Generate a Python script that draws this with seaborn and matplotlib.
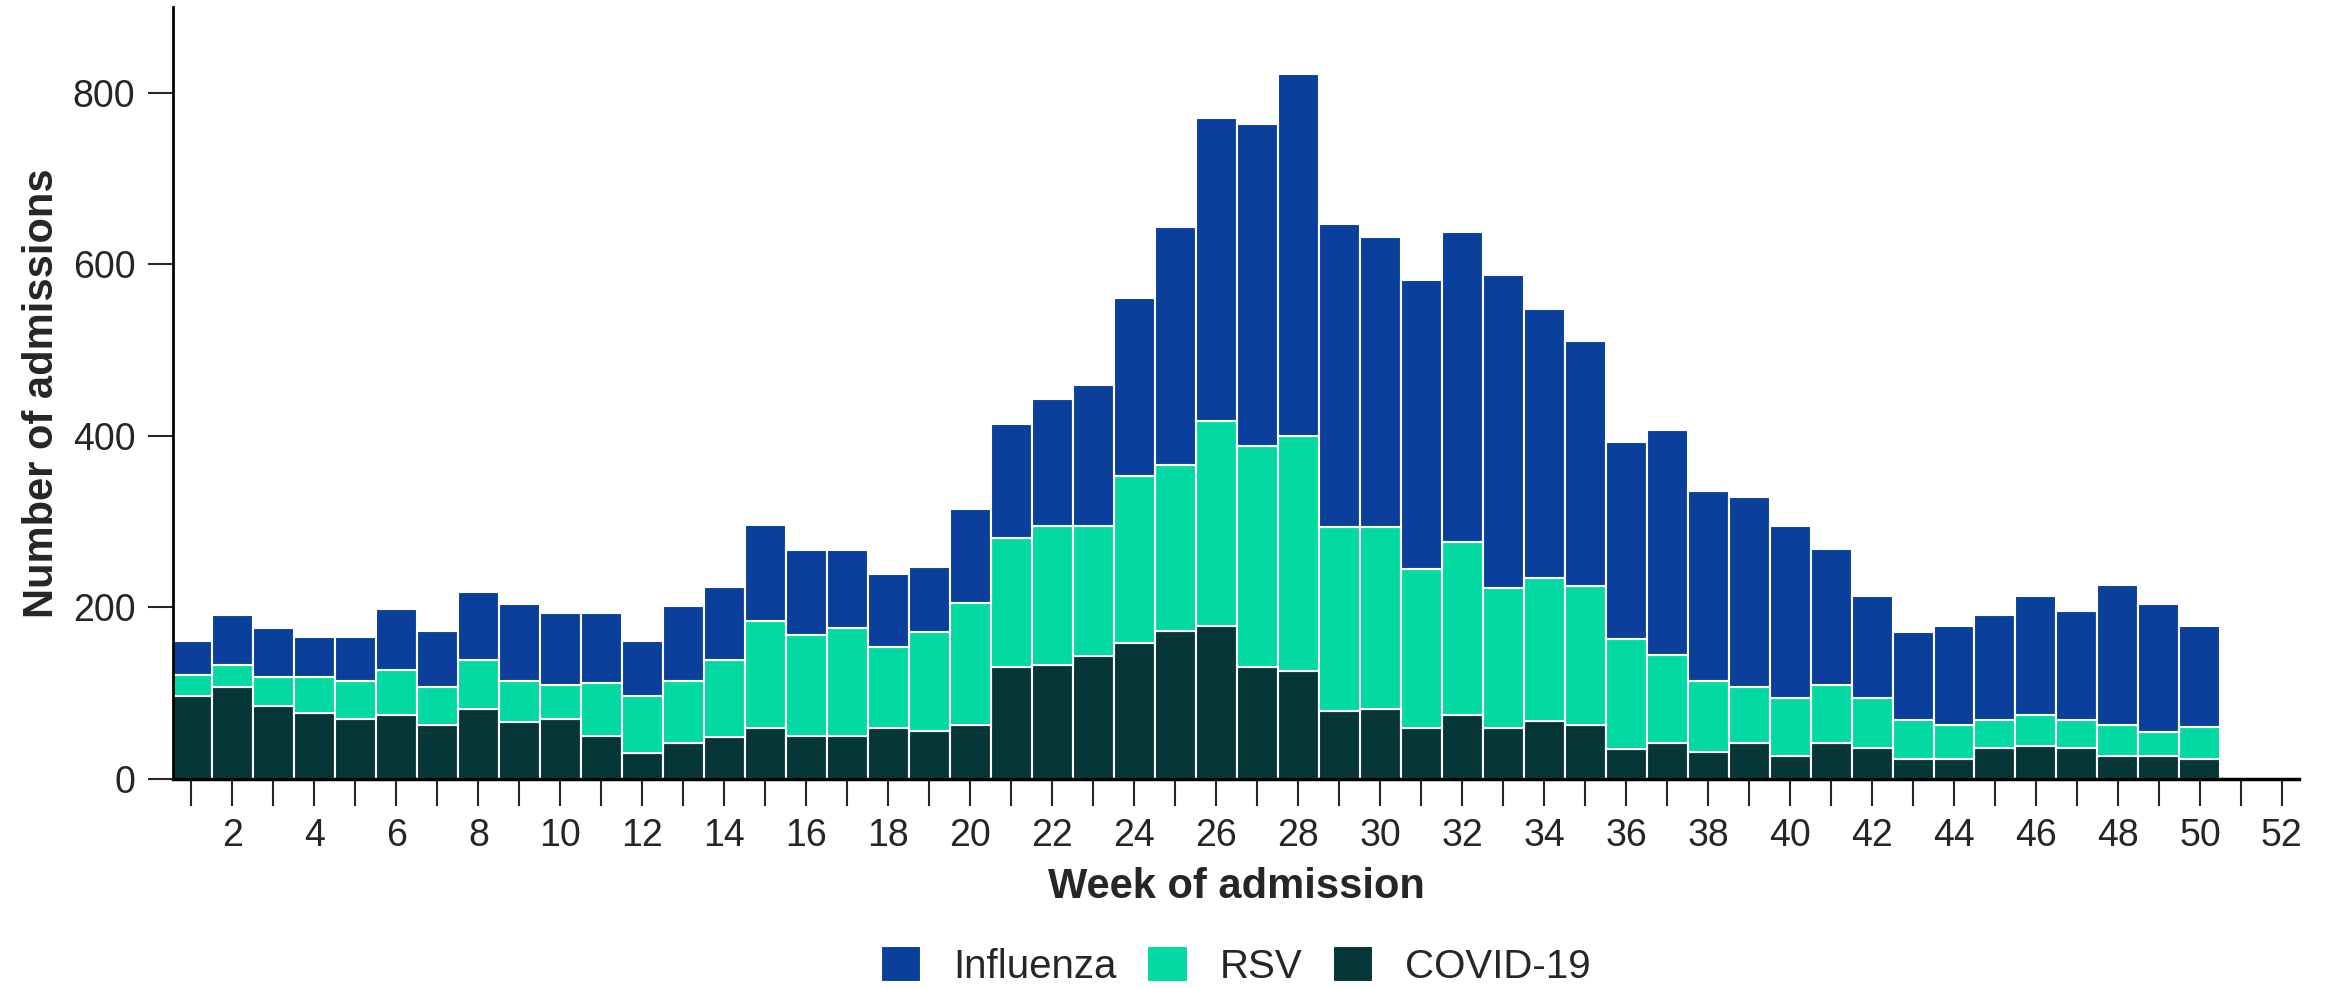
import matplotlib
matplotlib.use("Agg")
import matplotlib.pyplot as plt
import pandas as pd
import seaborn as sns

sns.set_style("ticks")
plt.rcParams['font.family'] = ['Liberation Sans', 'DejaVu Sans']

# weekly admissions by virus (segment counts)
weeks = list(range(1, 51))
influenza = [39, 59, 57, 47, 51, 71, 65, 80, 89, 84,
             81, 64, 87, 85, 112, 100, 91, 84, 76, 109,
             133, 149, 165, 208, 277, 354, 376, 423, 354, 339,
             337, 362, 365, 314, 286, 230, 262, 221, 221, 201,
             159, 119, 103, 116, 123, 139, 128, 164, 150, 118]
rsv = [25, 25, 34, 42, 45, 53, 44, 57, 48, 40,
       62, 66, 73, 90, 125, 117, 126, 95, 115, 142,
       150, 162, 151, 195, 194, 239, 258, 274, 214, 212,
       185, 202, 163, 167, 161, 129, 103, 83, 66, 68,
       68, 58, 45, 39, 32, 36, 32, 36, 28, 37]
covid = [96, 107, 85, 76, 69, 74, 63, 81, 66, 69,
         50, 30, 41, 48, 59, 50, 50, 59, 56, 63,
         130, 132, 143, 158, 172, 178, 130, 125, 79, 81,
         59, 74, 59, 67, 63, 34, 41, 31, 41, 26,
         41, 36, 23, 23, 36, 38, 36, 26, 26, 23]

viruses = ['Influenza', 'RSV', 'COVID-19']
colors = {'Influenza': '#0a3f9c', 'RSV': '#03d9a2', 'COVID-19': '#063638'}

df = pd.concat([
    pd.DataFrame({'week': weeks, 'count': influenza, 'virus': 'Influenza'}),
    pd.DataFrame({'week': weeks, 'count': rsv, 'virus': 'RSV'}),
    pd.DataFrame({'week': weeks, 'count': covid, 'virus': 'COVID-19'}),
])

fig = plt.figure(figsize=(23.28, 9.88), dpi=100)
ax = fig.add_subplot(111)
fig.subplots_adjust(left=0.0743, right=0.9876, bottom=0.212, top=0.993)

sns.histplot(data=df, x='week', weights='count', hue='virus',
             hue_order=viruses, palette=colors, multiple='stack',
             discrete=True, shrink=1, alpha=1, edgecolor='white',
             linewidth=1.5, ax=ax)

ax.set_xlim(0.55, 52.42)
ax.set_ylim(0, 900)
ax.set_yticks([0, 200, 400, 600, 800])
ax.set_xticks(range(1, 53))
ax.set_xticklabels([str(w) if w % 2 == 0 else '' for w in range(1, 53)])

ax.set_xlabel('Week of admission', fontsize=30, fontweight='bold', labelpad=9)
ax.set_ylabel('Number of admissions', fontsize=30, fontweight='bold', labelpad=8)
ax.tick_params(axis='y', labelsize=27, length=18, width=1.5, pad=9)
ax.tick_params(axis='x', labelsize=27, length=19.5, width=1.5, pad=9)

sns.despine(ax=ax)
ax.spines['left'].set_linewidth(2)
ax.spines['bottom'].set_linewidth(2.5)
ax.spines['left'].set_color('k')
ax.spines['bottom'].set_color('k')

sns.move_legend(ax, 'center', bbox_to_anchor=(0.5, -0.243), ncol=3,
                frameon=False, title=None, fontsize=29,
                handlelength=1.0, handleheight=1.0, columnspacing=0.75,
                handletextpad=0.8, borderpad=0.1)

plt.savefig('out.png', dpi=100)
